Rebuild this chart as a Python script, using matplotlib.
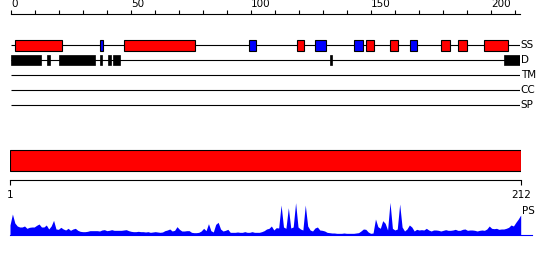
import numpy as np
import matplotlib
matplotlib.use('Agg')
import matplotlib.pyplot as plt

W, H = 550, 260

seq_len = 212
track_names = ['SS', 'D', 'TM', 'CC', 'SP']

# secondary structure: helices (red) and strands (blue)
helix_start = [1.6, 47, 119, 148, 158, 179, 186, 197]
helix_end = [21.2, 76.6, 122, 151, 161, 183, 190, 206.8]
strand_start = [37, 99, 126.8, 143, 166]
strand_end = [38.5, 102, 131, 146.8, 169]

# disorder segments
dis_start = [0, 14.8, 19.9, 36.9, 40.5, 42.6, 132.8, 205.2]
dis_end = [12.6, 16.3, 34.8, 37.7, 41.8, 45.5, 133.8, 212]

# domain bar
dom_start = [1]
dom_end = [212]

# per residue profile (PS)
ps_vals = [
    30, 63, 36, 27, 24, 24, 27, 20, 23, 24,
    24, 29, 33, 24, 24, 30, 18, 27, 44, 18,
    17, 23, 18, 15, 20, 14, 18, 20, 14, 11,
    10, 10, 11, 13, 13, 13, 13, 12, 15, 16,
    13, 14, 16, 14, 14, 14, 14, 15, 16, 13,
    11, 10, 10, 11, 10, 10, 9, 10, 8, 9,
    10, 9, 8, 9, 13, 15, 18, 12, 14, 25,
    17, 12, 12, 13, 13, 8, 7, 7, 8, 12,
    20, 13, 34, 13, 9, 32, 38, 18, 12, 14,
    17, 8, 8, 8, 9, 8, 8, 10, 8, 8,
    10, 8, 8, 8, 10, 13, 18, 20, 27, 15,
    22, 21, 90, 24, 20, 82, 21, 24, 97, 24,
    18, 15, 90, 27, 15, 12, 21, 24, 15, 14,
    12, 8, 7, 6, 6, 5, 5, 5, 6, 5,
    5, 5, 5, 6, 7, 12, 18, 17, 9, 5,
    6, 48, 25, 20, 43, 35, 15, 98, 20, 15,
    18, 93, 24, 12, 18, 30, 24, 12, 17, 15,
    16, 15, 20, 15, 12, 15, 15, 14, 12, 14,
    16, 14, 14, 15, 17, 14, 14, 17, 18, 14,
    15, 15, 14, 12, 14, 15, 14, 18, 27, 20,
    19, 20, 17, 18, 18, 20, 23, 30, 27, 38,
    48, 60,
]
residues = np.arange(1, seq_len + 1)

RED = '#ff0000'
BLUE = '#0000ff'
FS = 7.5

fig = plt.figure(figsize=(W / 100, H / 100), dpi=100)

# --- feature tracks with ruler on top
ax = fig.add_axes([11 / W, 1 - 110 / H, 509 / W, 95.7 / H])
ax.set_xlim(0, seq_len)
ax.set_ylim(4.33, -2.05)
ax.patch.set_visible(False)
for s in ['left', 'right', 'bottom']:
    ax.spines[s].set_visible(False)
ax.spines['top'].set_linewidth(0.8)
ax.xaxis.tick_top()
ax.set_xticks(np.arange(0, 201, 50))
ax.set_xticks(np.arange(0, 211, 10), minor=True)
ax.tick_params(axis='x', which='both', direction='out', length=3.2,
               width=0.8, pad=0.3, labelsize=FS)
ax.set_yticks([])
for lbl in ax.get_xticklabels():
    lbl.set_horizontalalignment('left')

ax.hlines(range(len(track_names)), 0, seq_len, color='black', lw=0.8)
for i, name in enumerate(track_names):
    ax.text(seq_len + 0.3, i, name, va='center', ha='left', fontsize=FS)

ax.barh(0, np.subtract(helix_end, helix_start), left=helix_start, height=0.73,
        color=RED, edgecolor='black', lw=0.8, zorder=3)
ax.barh(0, np.subtract(strand_end, strand_start), left=strand_start, height=0.73,
        color=BLUE, edgecolor='black', lw=0.8, zorder=3)
ax.barh(1, np.subtract(dis_end, dis_start), left=dis_start, height=0.71,
        color='black', edgecolor='black', lw=0.5, zorder=3)

# --- domain bar with 1..212 scale
axb = fig.add_axes([10 / W, 1 - 180.3 / H, 510.7 / W, 40.3 / H])
axb.set_xlim(1, seq_len)
axb.set_ylim(0, 1)
axb.patch.set_visible(False)
for s in ['left', 'right', 'top']:
    axb.spines[s].set_visible(False)
axb.spines['bottom'].set_linewidth(0.8)
axb.set_xticks([1, seq_len])
axb.set_xticklabels(['1', str(seq_len)])
axb.tick_params(axis='x', direction='out', length=3.4, width=0.8, pad=3.5,
                labelsize=FS)
axb.set_yticks([])
axb.barh(0.49, np.subtract(dom_end, dom_start), left=dom_start, height=0.52,
         color=RED, edgecolor='black', lw=0.8)

# --- PS profile
axp = fig.add_axes([10 / W, 1 - 235 / H, 510.7 / W, 40 / H])
axp.set_xlim(1, seq_len)
axp.set_ylim(0, 120)
axp.axis('off')
axp.fill_between(residues, 0, ps_vals, color=BLUE, lw=0)
axp.plot([1, seq_len + 4.7], [0, 0], color=BLUE, lw=0.8, clip_on=False)
axp.text(seq_len + 0.4, 72, 'PS', va='center', ha='left', fontsize=FS)

fig.savefig('out.png', dpi=100)
